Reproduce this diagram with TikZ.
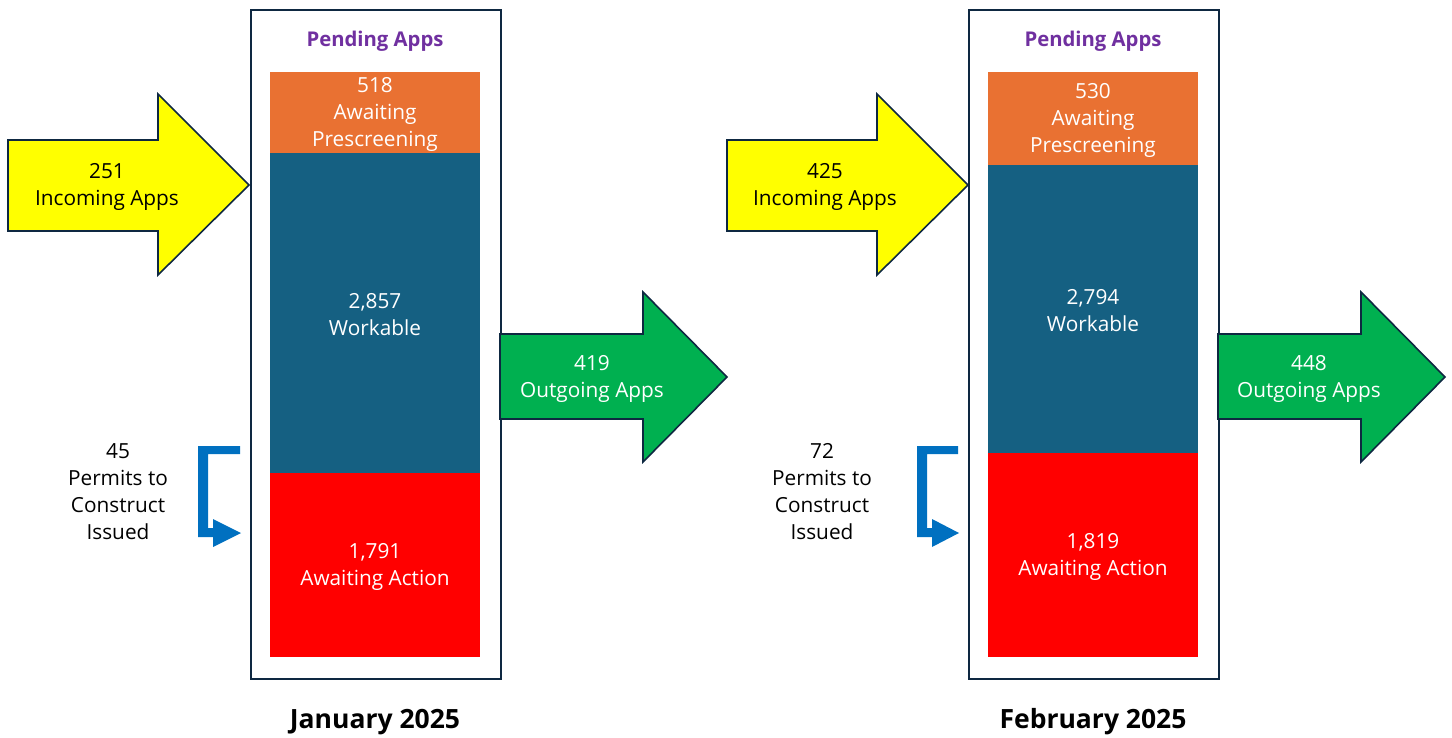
\documentclass[tikz,border=0pt]{standalone}
\usepackage{fontspec}
\setmainfont{Open Sans}
\definecolor{navy}{HTML}{0E2841}
\definecolor{preor}{HTML}{E97132}
\definecolor{workbl}{HTML}{156082}
\definecolor{actred}{HTML}{FF0000}
\definecolor{outgr}{HTML}{00B050}
\definecolor{inyel}{HTML}{FFFF00}
\definecolor{pendpu}{HTML}{7030A0}
\definecolor{permbl}{HTML}{0070C0}
\begin{document}
\begin{tikzpicture}[x=1pt,y=-1pt,
  txt/.style={font=\fontsize{20.8}{27}\selectfont, align=center, inner sep=0pt},
  wtxt/.style={txt, text=white},
  outl/.style={draw=navy, line width=1.6pt, line join=miter},
  panelbox/.style={draw=navy, line width=1.8pt, fill=white, minimum width=250pt, minimum height=669pt, inner sep=0pt, anchor=north west},
  barbox/.style={wtxt, minimum width=210pt, inner sep=0pt},
  pend/.style={font=\fontsize{20.3}{24}\selectfont\bfseries, text=pendpu, inner sep=0pt},
  month/.style={font=\fontsize{26.5}{30}\selectfont\bfseries, inner sep=0pt},
  permarrow/.style={fill=permbl, draw=none}
]
\useasboundingbox (0,0) rectangle (1452,738);

% ---------------- January ----------------
\node[panelbox] (box1) at (250,9) {};
\node[pend] (pend1) at (375,41) {Pending Apps};
\node[barbox, fill=preor, minimum height=81pt] (pre1) at (375,112.5) {};
\node[wtxt] (pre1t) at (375,114.5) {518\\Awaiting\\Prescreening};
\node[barbox, fill=workbl, minimum height=320pt] (wrk1) at (375,313) {};
\node[wtxt] (wrk1t) at (375,315) {2,857\\Workable};
\node[barbox, fill=actred, minimum height=184pt] (act1) at (375,565) {};
\node[wtxt] (act1t) at (375,567) {1,791\\Awaiting Action};

\draw[outl, fill=inyel] (8,140) -- (158,140) -- (158,94) -- (249,185) -- (158,275) -- (158,231) -- (8,231) -- cycle;
\node[txt] (inc1) at (107,187) {251\\Incoming Apps};

\draw[outl, fill=outgr] (500,334) -- (643,334) -- (643,292) -- (727,377) -- (643,462) -- (643,419) -- (500,419) -- cycle;
\node[wtxt] (out1) at (592,379) {419\\Outgoing Apps};

\node[txt] (perm1) at (118,492) {45\\Permits to\\Construct\\Issued};
\fill[permarrow] (198,446) -- (240,446) -- (240,454) -- (208,454) -- (208,528) -- (213,528) -- (213,519) -- (241,533) -- (213,547) -- (213,537) -- (198,537) -- cycle;

\node[month] (mon1) at (375,722) {January 2025};

% ---------------- February ----------------
\node[panelbox] (box2) at (968,9) {};
\node[pend] (pend2) at (1093,41) {Pending Apps};
\node[barbox, fill=preor, minimum height=93pt] (pre2) at (1093,118.5) {};
\node[wtxt] (pre2t) at (1093,120.5) {530\\Awaiting\\Prescreening};
\node[barbox, fill=workbl, minimum height=288pt] (wrk2) at (1093,309) {};
\node[wtxt] (wrk2t) at (1093,311) {2,794\\Workable};
\node[barbox, fill=actred, minimum height=204pt] (act2) at (1093,555) {};
\node[wtxt] (act2t) at (1093,557) {1,819\\Awaiting Action};

\draw[outl, fill=inyel] (727,140) -- (877,140) -- (877,94) -- (968,185) -- (877,275) -- (877,231) -- (727,231) -- cycle;
\node[txt] (inc2) at (825,187) {425\\Incoming Apps};

\draw[outl, fill=outgr] (1218,334) -- (1361,334) -- (1361,292) -- (1445,377) -- (1361,462) -- (1361,419) -- (1218,419) -- cycle;
\node[wtxt] (out2) at (1309,379) {448\\Outgoing Apps};

\node[txt] (perm2) at (822,492) {72\\Permits to\\Construct\\Issued};
\fill[permarrow] (917,446) -- (958,446) -- (958,454) -- (927,454) -- (927,528) -- (932,528) -- (932,519) -- (959,533) -- (932,547) -- (932,537) -- (917,537) -- cycle;

\node[month] (mon2) at (1093,722) {February 2025};
\end{tikzpicture}
\end{document}
